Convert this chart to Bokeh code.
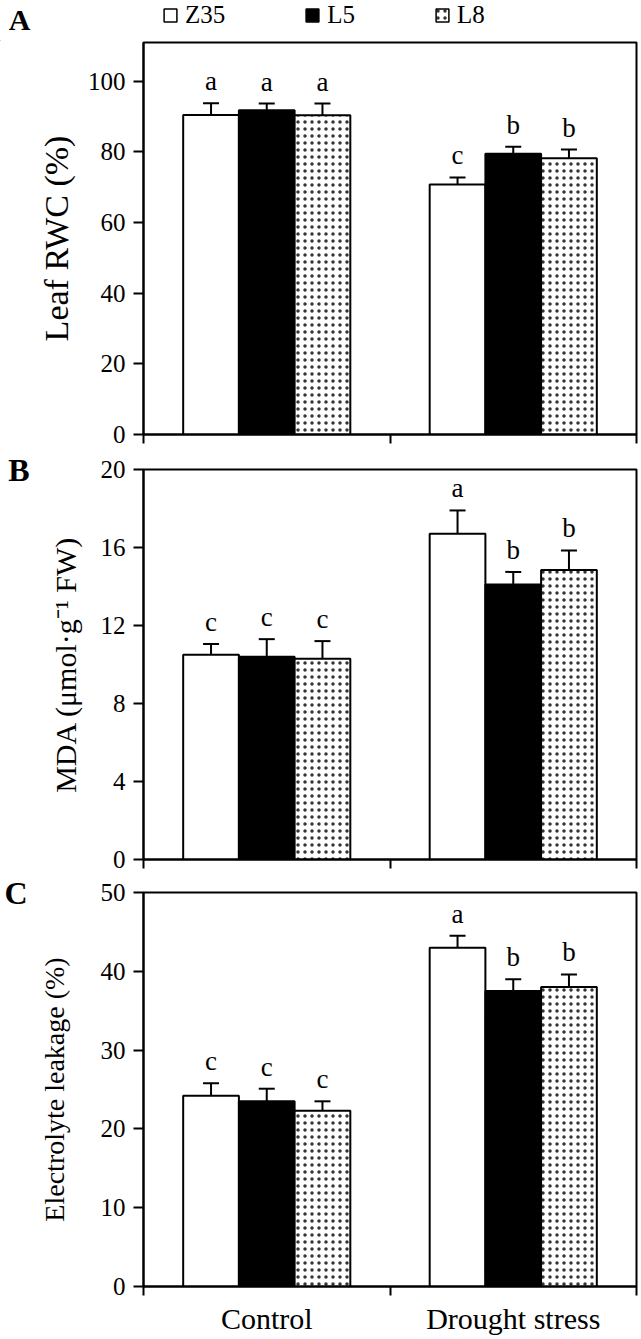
from bokeh.plotting import figure
from bokeh.models import (ColumnDataSource, Range1d, FixedTicker, Whisker, TeeHead,
                          Legend, LegendItem, Label, LinearAxis)
from bokeh.layouts import column
from bokeh.embed import file_html
from bokeh.resources import INLINE
from bokeh.core.properties import value

# ---------------- data ----------------
conditions = ["Control", "Drought stress"]
lines = ["Z35", "L5", "L8"]

rwc_mean = {"Z35": [90.5, 70.8], "L5": [91.8, 79.5], "L8": [90.4, 78.2]}
rwc_err = {"Z35": [3.3, 2.0], "L5": [1.9, 2.0], "L8": [3.3, 2.5]}
rwc_sig = {"Z35": ["a", "c"], "L5": ["a", "b"], "L8": ["a", "b"]}

mda_mean = {"Z35": [10.5, 16.7], "L5": [10.4, 14.1], "L8": [10.3, 14.85]}
mda_err = {"Z35": [0.55, 1.2], "L5": [0.9, 0.65], "L8": [0.9, 1.0]}
mda_sig = {"Z35": ["c", "a"], "L5": ["c", "b"], "L8": ["c", "b"]}

el_mean = {"Z35": [24.2, 43.0], "L5": [23.5, 37.5], "L8": [22.3, 38.0]}
el_err = {"Z35": [1.6, 1.5], "L5": [1.6, 1.5], "L8": [1.2, 1.6]}
el_sig = {"Z35": ["c", "a"], "L5": ["c", "b"], "L8": ["c", "b"]}

rwc_ticks = [0, 20, 40, 60, 80, 100]
mda_ticks = [0, 4, 8, 12, 16, 20]
el_ticks = [0, 10, 20, 30, 40, 50]

# ---------------- style ----------------
FONT = "Liberation Serif"
W = 638
offsets = {"Z35": -0.226, "L5": 0.0, "L8": 0.226}
BAR_W = 0.226
styles = {
    "Z35": dict(fill_color="white"),
    "L5": dict(fill_color="black"),
    "L8": dict(fill_color="white", hatch_pattern="dot", hatch_scale=7,
               hatch_weight=0.2, hatch_color="black", hatch_alpha=0.8),
}
centers = [0.5, 1.5]


def make_panel(height, y_end, yticks, ylabel, title_size, title_standoff,
               means, errs, sigs, top_border, bottom_border, show_xlabels,
               panel_letter=None, letter_standoff=10):
    p = figure(width=W, height=height, x_range=Range1d(0, 2),
               y_range=Range1d(0, y_end), output_backend="svg",
               toolbar_location=None, min_border_left=143, min_border_right=2,
               min_border_top=top_border, min_border_bottom=bottom_border,
               background_fill_color="white", border_fill_color="white",
               outline_line_color="black", outline_line_width=2)
    p.grid.visible = False

    # y axis
    ya = p.yaxis[0]
    ya.ticker = FixedTicker(ticks=yticks)
    ya.axis_label = ylabel
    ya.axis_label_text_font = FONT
    ya.axis_label_text_font_style = "normal"
    ya.axis_label_text_font_size = title_size
    ya.axis_label_text_color = "black"
    ya.axis_label_standoff = title_standoff
    ya.major_label_text_font = FONT
    ya.major_label_text_font_size = "25px"
    ya.major_label_text_color = "black"
    ya.major_label_standoff = 8
    ya.major_tick_out = 10
    ya.major_tick_in = 0
    ya.major_tick_line_width = 2
    ya.minor_tick_out = 0
    ya.minor_tick_in = 0
    ya.axis_line_width = 2

    # x axis
    xa = p.xaxis[0]
    if show_xlabels:
        xa.ticker = FixedTicker(ticks=centers, minor_ticks=[0, 1, 2])
        xa.major_label_overrides = {0.5: conditions[0], 1.5: conditions[1]}
    else:
        xa.ticker = FixedTicker(ticks=[], minor_ticks=[0, 1, 2])
    xa.major_label_text_font = FONT
    xa.major_label_text_font_size = "30px"
    xa.major_label_text_color = "black"
    xa.major_label_standoff = 6
    xa.major_tick_out = 0
    xa.major_tick_in = 0
    xa.minor_tick_out = 9
    xa.minor_tick_in = 0
    xa.minor_tick_line_width = 2
    xa.axis_line_width = 2

    # panel letter as a one-tick outer axis at the top of the panel
    if panel_letter is not None:
        la = LinearAxis(ticker=FixedTicker(ticks=[y_end]),
                        major_label_overrides={y_end: panel_letter},
                        axis_line_color=None, major_tick_line_color=None,
                        minor_tick_line_color=None,
                        major_tick_out=0, major_tick_in=0,
                        major_label_standoff=letter_standoff,
                        major_label_text_font=FONT,
                        major_label_text_font_style="bold",
                        major_label_text_font_size="32px",
                        major_label_text_color="black")
        p.add_layout(la, "left")

    renderers = {}
    for ln in lines:
        xs = [c + offsets[ln] for c in centers]
        tops = means[ln]
        uppers = [m + e for m, e in zip(means[ln], errs[ln])]
        src = ColumnDataSource(dict(x=xs, top=tops, upper=uppers, sig=sigs[ln]))
        r = p.vbar(x="x", top="top", width=BAR_W, source=src,
                   line_color="black", line_width=2, **styles[ln])
        renderers[ln] = r
        w = Whisker(source=src, base="x", lower="top", upper="upper",
                    dimension="height", line_color="black", line_width=2,
                    upper_head=TeeHead(size=16, line_width=2, line_color="black"),
                    lower_head=None)
        p.add_layout(w)
        p.text(x="x", y="upper", text="sig", source=src, text_align="center",
               text_baseline="bottom", y_offset=-7,
               text_font=value(FONT), text_font_size="27px", text_color="black")
    return p, renderers


# header strip: panel letter A and the legend (its frame spans the whole strip)
head = figure(width=W, height=41, x_range=Range1d(0, W), y_range=Range1d(0, 41),
              output_backend="svg", toolbar_location=None, min_border=0,
              x_axis_type=None, y_axis_type=None, outline_line_color=None,
              background_fill_color="white", border_fill_color="white")
head.frame_align = False
head.grid.visible = False
head_r = {}
for ln in lines:
    # legend proxies: a single point placed off the visible strip
    head_r[ln] = head.vbar(x=[-100], top=[0], width=1, line_color="black",
                           line_width=1.5, **styles[ln])
head.add_layout(Label(x=19, y=22, text="A", text_font=FONT, text_font_style="bold",
                      text_font_size="30px", text_align="center",
                      text_baseline="middle", text_color="black"))
legend = Legend(items=[LegendItem(label=ln, renderers=[head_r[ln]]) for ln in lines],
                orientation="horizontal", location=(160, 10),
                label_text_font=FONT, label_text_font_size="25px",
                label_text_color="black",
                glyph_width=16, glyph_height=16, label_standoff=7, spacing=79,
                padding=2, margin=0, border_line_alpha=0,
                background_fill_alpha=0)
head.add_layout(legend)

pA, rA = make_panel(408, 111, rwc_ticks, "Leaf RWC (%)", "34px", 10,
                    rwc_mean, rwc_err, rwc_sig, 1, 15, False)
pB, rB = make_panel(425, 20, mda_ticks, "MDA (μmol·g⁻¹ FW)", "30px", 16,
                    mda_mean, mda_err, mda_sig, 20, 15, False, "B", 16)
pC, rC = make_panel(464, 50, el_ticks, "Electrolyte leakage (%)", "28px", 28,
                    el_mean, el_err, el_sig, 18, 52, True, "C", 8)

layout = column(head, pA, pB, pC, spacing=0)
open("out.html", "w").write(file_html(layout, INLINE))
